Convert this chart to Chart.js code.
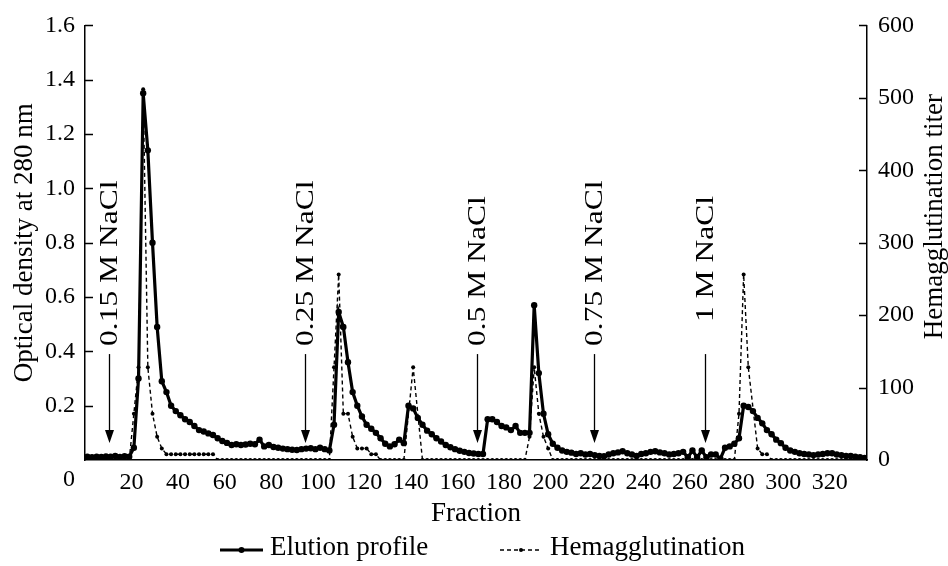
<!DOCTYPE html>
<html>
<head>
<meta charset="utf-8">
<script src="https://cdn.jsdelivr.net/npm/chart.js@4.4.0/dist/chart.umd.min.js"></script>
<style>
  html, body { margin: 0; padding: 0; background: #fff; }
  #wrap { width: 948px; height: 566px; }
</style>
</head>
<body>
<div id="wrap"><canvas id="chart"></canvas></div>
<script>
// Fraction numbers (x)
const fractions = [
  1, 3, 5, 7, 9, 11, 13, 15, 17, 19, 21, 23,
  25, 27, 29, 31, 33, 35, 37, 39, 41, 43, 45, 47,
  49, 51, 53, 55, 57, 59, 61, 63, 65, 67, 69, 71,
  73, 75, 77, 79, 81, 83, 85, 87, 89, 91, 93, 95,
  97, 99, 101, 103, 105, 107, 109, 111, 113, 115, 117, 119,
  121, 123, 125, 127, 129, 131, 133, 135, 137, 139, 141, 143,
  145, 147, 149, 151, 153, 155, 157, 159, 161, 163, 165, 167,
  169, 171, 173, 175, 177, 179, 181, 183, 185, 187, 189, 191,
  193, 195, 197, 199, 201, 203, 205, 207, 209, 211, 213, 215,
  217, 219, 221, 223, 225, 227, 229, 231, 233, 235, 237, 239,
  241, 243, 245, 247, 249, 251, 253, 255, 257, 259, 261, 263,
  265, 267, 269, 271, 273, 275, 277, 279, 281, 283, 285, 287,
  289, 291, 293, 295, 297, 299, 301, 303, 305, 307, 309, 311,
  313, 315, 317, 319, 321, 323, 325, 327, 329, 331, 333, 335
];

// Optical density at 280 nm
const elution = [
  0.012, 0.010, 0.012, 0.011, 0.013, 0.012, 0.015, 0.011, 0.014, 0.012, 0.045, 0.30,
  1.35, 1.14, 0.80, 0.49, 0.29, 0.25, 0.20, 0.18, 0.165, 0.15, 0.14, 0.125,
  0.11, 0.105, 0.098, 0.092, 0.08, 0.07, 0.063, 0.055, 0.058, 0.055, 0.057, 0.06,
  0.058, 0.075, 0.05, 0.055, 0.048, 0.045, 0.042, 0.04, 0.038, 0.037, 0.04, 0.042,
  0.043, 0.04, 0.045, 0.04, 0.035, 0.13, 0.545, 0.49, 0.36, 0.25, 0.20, 0.16,
  0.13, 0.115, 0.10, 0.08, 0.06, 0.05, 0.058, 0.075, 0.062, 0.20, 0.19, 0.155,
  0.13, 0.108, 0.095, 0.08, 0.068, 0.055, 0.047, 0.04, 0.034, 0.03, 0.026, 0.024,
  0.022, 0.022, 0.15, 0.15, 0.14, 0.125, 0.12, 0.11, 0.125, 0.10, 0.10, 0.10,
  0.57, 0.32, 0.17, 0.095, 0.06, 0.045, 0.035, 0.03, 0.027, 0.022, 0.025, 0.02,
  0.022, 0.018, 0.015, 0.014, 0.02, 0.025, 0.028, 0.032, 0.025, 0.02, 0.015, 0.022,
  0.025, 0.03, 0.032, 0.028, 0.025, 0.02, 0.022, 0.025, 0.03, 0.01, 0.035, 0.01,
  0.035, 0.01, 0.02, 0.02, 0.005, 0.045, 0.05, 0.06, 0.08, 0.20, 0.195, 0.18,
  0.155, 0.135, 0.11, 0.095, 0.075, 0.062, 0.045, 0.035, 0.03, 0.025, 0.022, 0.02,
  0.018, 0.02, 0.022, 0.025, 0.025, 0.02, 0.018, 0.015, 0.015, 0.012, 0.01, 0.008
];

// Hemagglutination titer (null = no reading, line passes through)
const hemagg = [
  0, 0, 0, 0, 0, 0, 0, 0, 0, 0, 64, 128,
  512, 128, 64, 32, 16, 8, 8, 8, 8, 8, 8, 8,
  8, 8, 8, 8, 0, 0, 0, 0, 0, 0, 0, 0,
  0, 0, 0, 0, 0, 0, 0, 0, 0, 0, 0, 0,
  0, 0, 0, 0, 0, 128, 256, 64, 64, 32, 16, 16,
  16, 8, 8, 0, 0, 0, 0, 0, 0, null, 128, null,
  0, 0, 0, 0, 0, 0, 0, 0, 0, 0, 0, 0,
  0, 0, 0, 0, 0, 0, 0, 0, 0, 0, 0, 32,
  128, 64, 32, 16, 0, 0, 0, 0, 0, 0, 0, 0,
  0, 0, 0, 0, 0, 0, 0, 0, 0, 0, 0, 0,
  0, 0, 0, 0, 0, 0, 0, 0, 0, 0, 0, 0,
  0, 0, 0, 0, 0, 0, 0, 0, 64, 256, 128, null,
  16, 8, 8, 0, 0, 0, 0, 0, 0, 0, 0, 0,
  0, 0, 0, 0, 0, 0, 0, 0, 0, 0, 0, 0
];

// Salt step annotations
const naclLabels = ['0.15 M NaCl', '0.25 M NaCl', '0.5 M NaCl', '0.75 M NaCl', '1 M NaCl'];
const naclFractions = [10.5, 94.4, 168.4, 218.7, 266.3];
const naclTextBase = [0.42, 0.42, 0.42, 0.42, 0.508];

const SERIF = '"Liberation Serif", "Times New Roman", serif';
const tickFont = { family: SERIF, size: 24 };
const titleFont = { family: SERIF, size: 27, lineHeight: 1 };

// extra drawing: inner tick marks, salt arrows, right title, legend
const extras = {
  id: 'extras',
  afterDraw(chart) {
    const { ctx, chartArea: area, scales } = chart;
    const x = scales.x, y = scales.y, y1 = scales.y1;
    ctx.save();
    ctx.strokeStyle = '#000';
    ctx.fillStyle = '#000';
    ctx.lineWidth = 1.5;

    // inward tick marks
    ctx.beginPath();
    y.ticks.forEach(t => {
      if (t.value === 0) return;
      const py = Math.round(y.getPixelForValue(t.value)) + 0.5;
      ctx.moveTo(area.left, py); ctx.lineTo(area.left + 8, py);
    });
    y1.ticks.forEach(t => {
      if (t.value === 0) return;
      const py = Math.round(y1.getPixelForValue(t.value)) + 0.5;
      ctx.moveTo(area.right, py); ctx.lineTo(area.right - 8, py);
    });
    ctx.stroke();

    // the "0" fraction label sits left of the axis
    ctx.font = `24px ${SERIF}`;
    ctx.textAlign = 'center';
    ctx.textBaseline = 'top';
    ctx.fillText('0', area.left - 16, area.bottom + 8);

    // salt step arrows + rotated labels
    naclLabels.forEach((label, i) => {
      const px = Math.round(x.getPixelForValue(naclFractions[i])) + 0.5;
      const top = y.getPixelForValue(0.39);
      const bot = y.getPixelForValue(0.063);
      ctx.lineWidth = 1.3;
      ctx.beginPath();
      ctx.moveTo(px, top); ctx.lineTo(px, bot - 10);
      ctx.stroke();
      ctx.beginPath();
      ctx.moveTo(px, bot);
      ctx.lineTo(px - 4.5, bot - 13);
      ctx.lineTo(px + 4.5, bot - 13);
      ctx.closePath();
      ctx.fill();

      ctx.save();
      ctx.translate(px, y.getPixelForValue(naclTextBase[i]));
      ctx.rotate(-Math.PI / 2);
      ctx.scale(1.26, 1);
      ctx.font = `25px ${SERIF}`;
      ctx.textAlign = 'left';
      ctx.textBaseline = 'middle';
      ctx.fillText(label, 0, 1);
      ctx.restore();
    });

    // right axis title, reading bottom-to-top
    ctx.save();
    ctx.translate(935, (area.top + area.bottom) / 2 - 26);
    ctx.rotate(-Math.PI / 2);
    ctx.font = `27px ${SERIF}`;
    ctx.textAlign = 'center';
    ctx.textBaseline = 'middle';
    ctx.fillText('Hemagglutination titer', 0, 0);
    ctx.restore();

    // legend
    const ly = 550;
    ctx.font = `27px ${SERIF}`;
    ctx.textAlign = 'left';
    ctx.textBaseline = 'middle';
    ctx.lineWidth = 3;
    ctx.setLineDash([]);
    ctx.beginPath(); ctx.moveTo(220, ly); ctx.lineTo(263, ly); ctx.stroke();
    ctx.beginPath(); ctx.arc(241.5, ly, 3, 0, Math.PI * 2); ctx.fill();
    ctx.fillText('Elution profile', 270, ly - 2);

    ctx.lineWidth = 1.3;
    ctx.setLineDash([4, 3]);
    ctx.beginPath(); ctx.moveTo(500, ly); ctx.lineTo(542, ly); ctx.stroke();
    ctx.setLineDash([]);
    ctx.beginPath(); ctx.arc(521, ly, 2, 0, Math.PI * 2); ctx.fill();
    ctx.fillText('Hemagglutination', 550, ly - 2);
    ctx.restore();
  }
};

const ctx = document.getElementById('chart');
new Chart(ctx, {
  type: 'line',
  data: {
    datasets: [
      {
        label: 'Elution profile',
        data: fractions.map((f, i) => ({ x: f, y: elution[i] })),
        yAxisID: 'y',
        borderColor: '#000',
        backgroundColor: '#000',
        borderWidth: 3.2,
        pointRadius: 3.2,
        pointBorderWidth: 0,
        tension: 0
      },
      {
        label: 'Hemagglutination',
        data: fractions.map((f, i) => ({ x: f, y: hemagg[i] })),
        yAxisID: 'y1',
        borderColor: '#000',
        backgroundColor: '#000',
        borderWidth: 1.4,
        borderDash: [4, 3],
        pointRadius: 2,
        pointBorderWidth: 0,
        spanGaps: true,
        tension: 0
      }
    ]
  },
  options: {
    responsive: true,
    maintainAspectRatio: false,
    animation: false,
    layout: { padding: { top: 25, left: 0, right: 0, bottom: 0 } },
    plugins: { legend: { display: false }, tooltip: { enabled: false } },
    scales: {
      x: {
        type: 'linear',
        min: 0,
        max: 336,
        afterFit: s => { s.height = 106; },
        grid: { display: false, drawTicks: false },
        border: { display: true, color: '#000', width: 1.5 },
        ticks: {
          stepSize: 20, includeBounds: false, autoSkip: false, maxRotation: 0, padding: 8,
          color: '#000', font: tickFont,
          callback: v => (v === 0 ? '' : v)
        },
        title: { display: true, text: 'Fraction', color: '#000', font: titleFont, padding: { top: 0, bottom: 39 } }
      },
      y: {
        position: 'left',
        min: 0,
        max: 1.6,
        afterFit: s => { s.width = 85; },
        grid: { display: false, drawTicks: false },
        border: { display: true, color: '#000', width: 1.5 },
        ticks: {
          stepSize: 0.2, padding: 10, color: '#000', font: tickFont,
          callback: v => (v === 0 ? '' : v.toFixed(1))
        },
        title: { display: true, text: 'Optical density at 280 nm', color: '#000', font: titleFont, padding: { top: 11, bottom: 0 } }
      },
      y1: {
        position: 'right',
        min: 0,
        max: 600,
        afterFit: s => { s.width = 81; },
        grid: { display: false, drawTicks: false },
        border: { display: true, color: '#000', width: 1.5 },
        ticks: { stepSize: 100, padding: 11, color: '#000', font: tickFont }
      }
    }
  },
  plugins: [extras]
});
</script>
</body>
</html>
